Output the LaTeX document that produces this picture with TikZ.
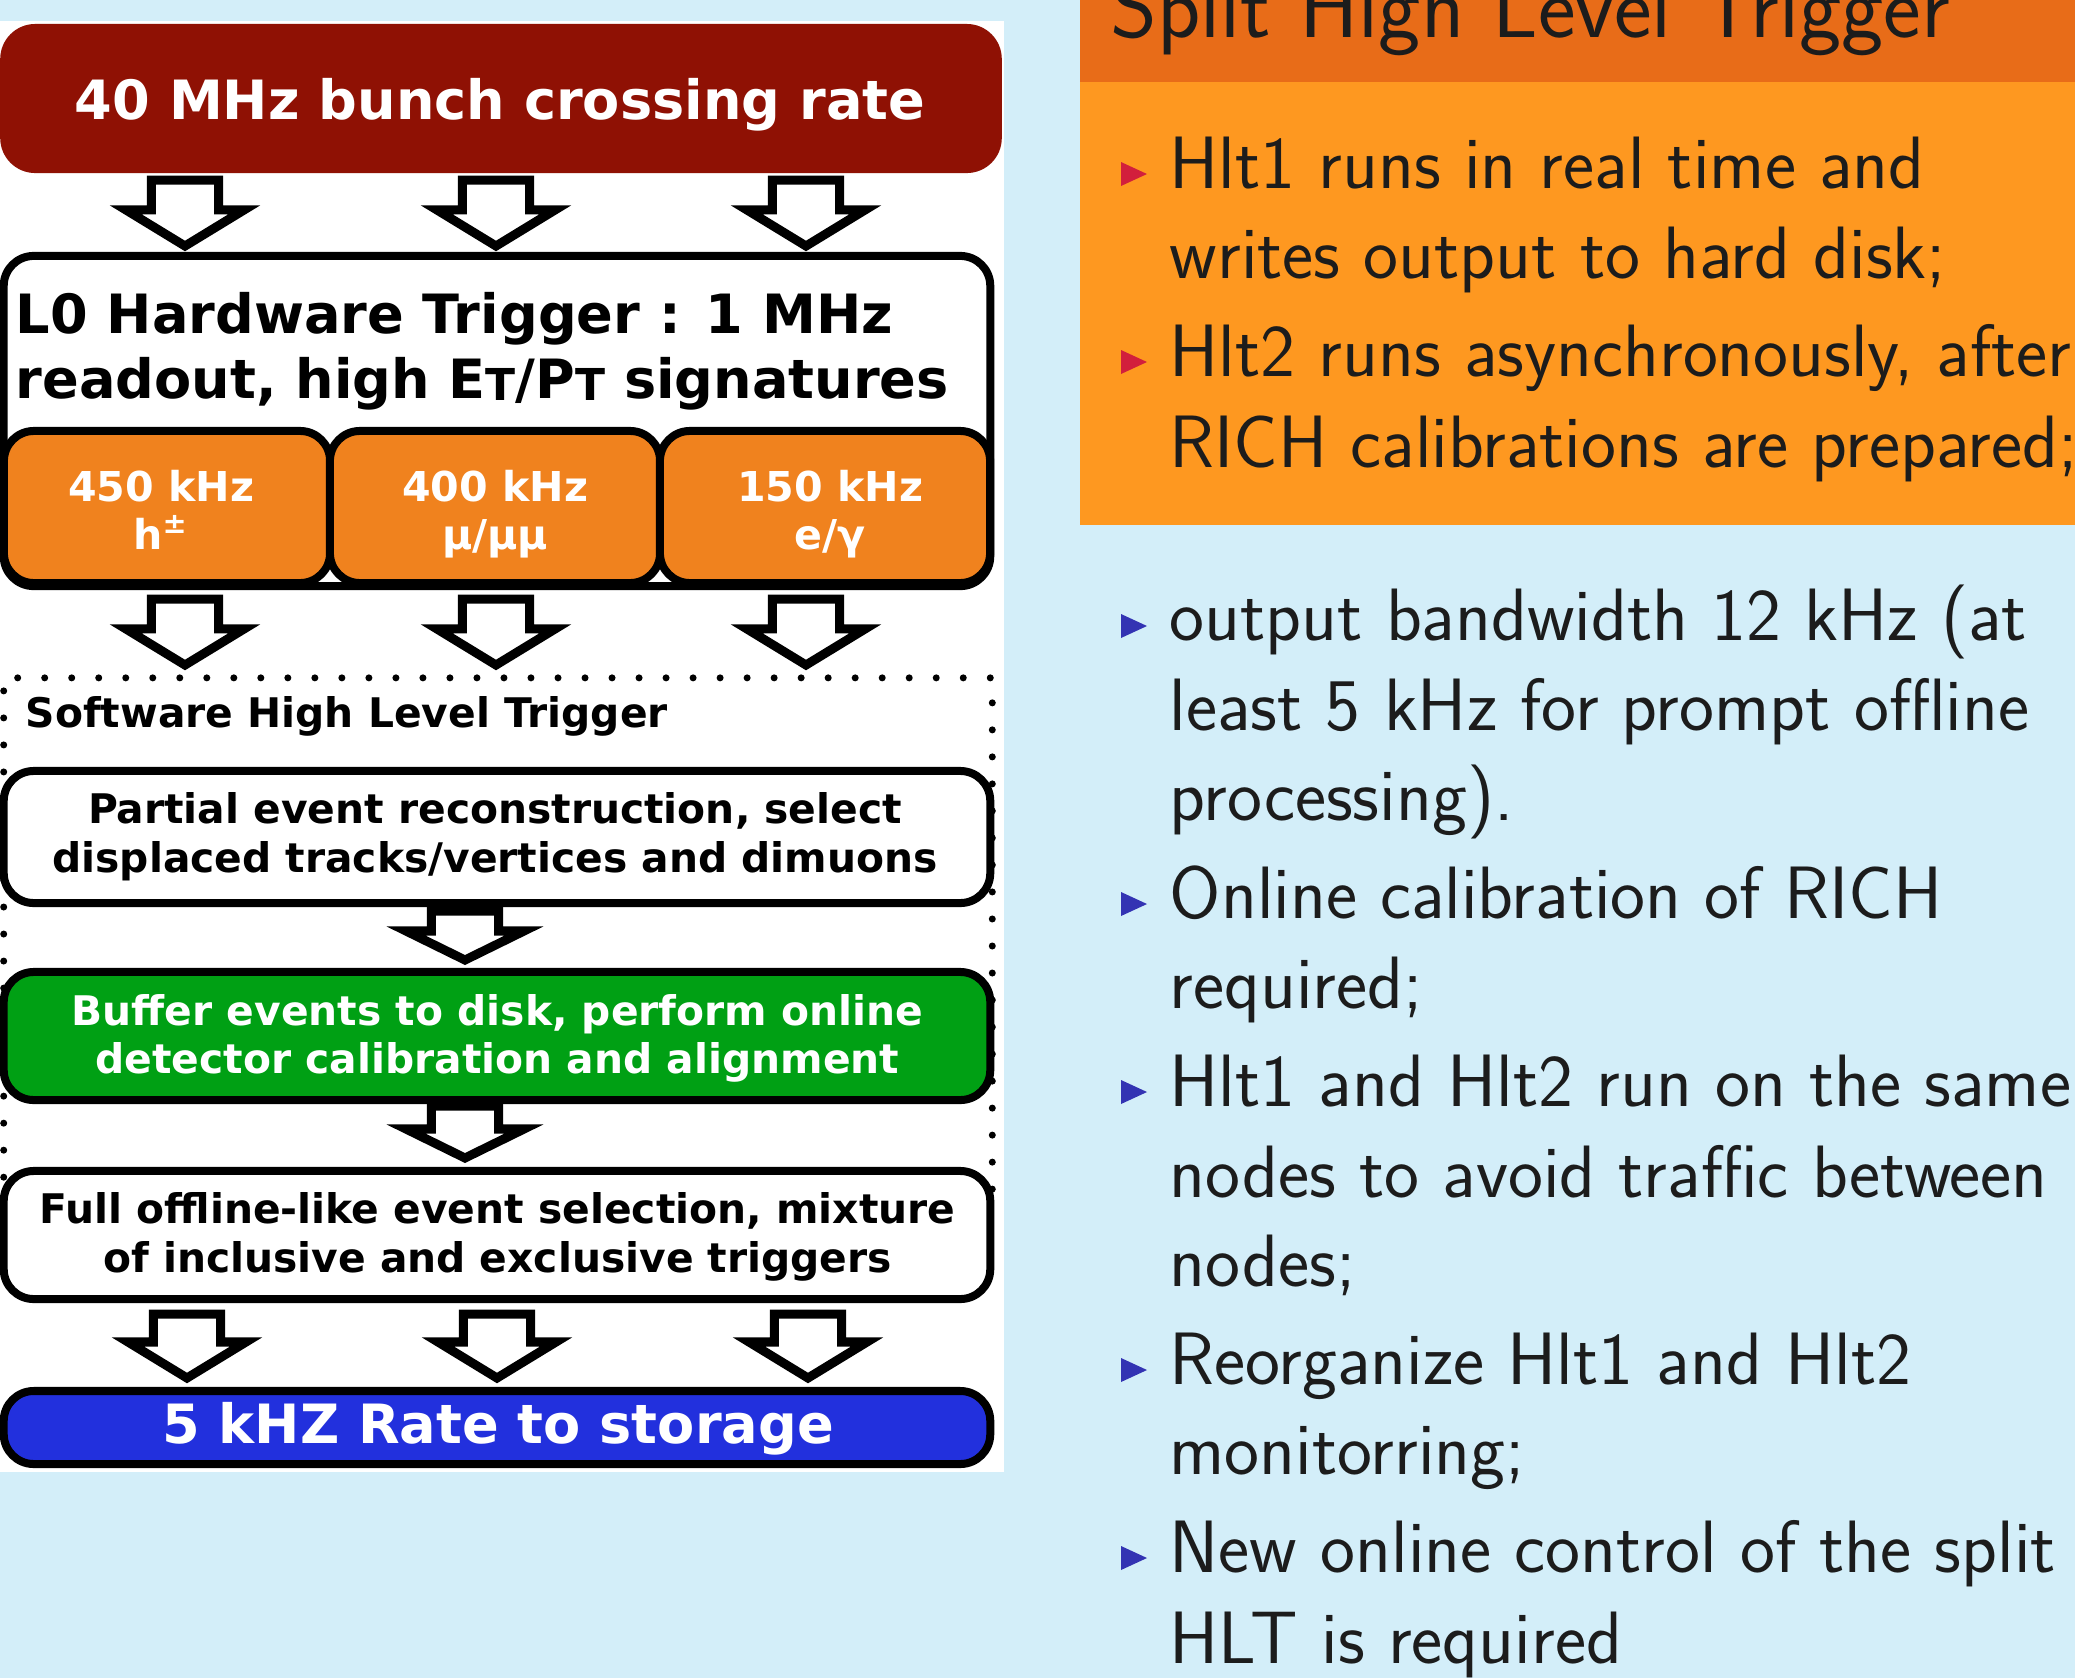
\documentclass[tikz,border=0pt]{standalone}
\usepackage{fontspec}
\newfontfamily\djv{DejaVu Sans}
\usetikzlibrary{calc}
\definecolor{bgblue}{HTML}{D3EEF9}
\definecolor{darkred}{HTML}{8F1104}
\definecolor{boxorange}{HTML}{F0821E}
\definecolor{boxgreen}{HTML}{00A014}
\definecolor{boxblue}{HTML}{2230DD}
\definecolor{titleorange}{HTML}{E86C18}
\definecolor{bodyorange}{HTML}{FE9820}
\definecolor{bulred}{HTML}{D21F3C}
\definecolor{bulblue}{HTML}{3333B3}
\definecolor{txt}{HTML}{1C1C1C}
\newcommand\blkarrow[3]{\draw[barrow] let \p1=(#1), \p2=(#2) in
  (\x1-0.335cm,\y1) -- (\x1+0.335cm,\y1) -- (\x1+0.335cm,\y2+#3) -- (\x1+0.59cm,\y2+#3)
  -- (\x1,\y2) -- (\x1-0.59cm,\y2+#3) -- (\x1-0.335cm,\y2+#3) -- cycle;}
\newcommand\redbul[1]{\fill[bulred] (1121,#1-26) -- (1147,#1-14) -- (1121,#1-2) -- cycle;}
\newcommand\bluebul[1]{\fill[bulblue] (1121,#1-26) -- (1147,#1-14) -- (1121,#1-2) -- cycle;}
\newcommand\subT{\raisebox{-0.05em}{\fontsize{12.5pt}{12.5pt}\selectfont T}}
\begin{document}
\begin{tikzpicture}[x=0.01cm,y=-0.01cm,
  bigf/.style={font=\djv\bfseries\fontsize{15.4pt}{17pt}\selectfont},
  midf/.style={font=\djv\bfseries\fontsize{11.7pt}{13.7pt}\selectfont},
  smlf/.style={font=\djv\bfseries\fontsize{11.6pt}{13.7pt}\selectfont},
  lt/.style={anchor=base, inner sep=0pt},
  ltw/.style={anchor=base west, inner sep=0pt},
  fbox/.style={draw=black, line width=0.08cm, rounded corners=0.3cm, inner sep=0pt},
  barrow/.style={draw=black, fill=white, line width=0.09cm, line join=miter},
  dotbox/.style={draw=black, line width=0.07cm, dash pattern=on 0pt off 0.27cm, line cap=round, inner sep=0pt},
  rtxt/.style={anchor=base west, inner sep=0pt, text=txt, font=\sffamily\fontsize{21.1pt}{26pt}\selectfont}]
\useasboundingbox (0,0) rectangle (2075,1678);
\fill[bgblue] (0,0) rectangle (2075,1678);
% left panel
\fill[white] (0,21) rectangle (1004,1472);
\node[fill=darkred, rounded corners=0.35cm, inner sep=0pt, minimum width=10.01cm, minimum height=1.49cm] (rate) at (501,98.5) {};
\node[lt, text=white, bigf] (ratet) at (500,119) {40 MHz bunch crossing rate};
\node[fbox, fill=white, minimum width=9.86cm, minimum height=3.30cm] (l0) at (497,421) {};
\node[ltw, bigf] (l0a) at (15,333) {L0 Hardware Trigger : 1 MHz};
\node[ltw, bigf] (l0b) at (15,398) {readout, high E\subT/P\subT{} signatures};
\node[fbox, fill=boxorange, minimum width=3.26cm, minimum height=1.52cm] (o1) at (167,507) {};
\node[fbox, fill=boxorange, minimum width=3.30cm, minimum height=1.52cm] (o2) at (495,507) {};
\node[fbox, fill=boxorange, minimum width=3.30cm, minimum height=1.52cm] (o3) at (825,507) {};
\node[lt, text=white, midf] (o1a) at (161,501) {450 kHz};
\node[lt, text=white, midf] (o1b) at (161,549) {h\textsuperscript{±}};
\node[lt, text=white, midf] (o2a) at (495,501) {400 kHz};
\node[lt, text=white, midf] (o2b) at (495,549) {μ/μμ};
\node[lt, text=white, midf] (o3a) at (830,501) {150 kHz};
\node[lt, text=white, midf] (o3b) at (830,549) {e/γ};
\node[dotbox, minimum width=9.88cm, minimum height=5.22cm] (hlt) at (498,939) {};
\node[ltw, smlf] (hltt) at (25,727) {Software High Level Trigger};
\node[fbox, fill=white, minimum width=9.86cm, minimum height=1.32cm] (part) at (497,837) {};
\node[lt, smlf] (parta) at (495,823) {Partial event reconstruction, select};
\node[lt, smlf] (partb) at (495,872) {displaced tracks/vertices and dimuons};
\node[fbox, fill=boxgreen, minimum width=9.86cm, minimum height=1.28cm] (buf) at (497,1036) {};
\node[lt, text=white, smlf] (bufa) at (497.5,1025) {Buffer events to disk, perform online};
\node[lt, text=white, smlf] (bufb) at (497.5,1073) {detector calibration and alignment};
\node[fbox, fill=white, minimum width=9.86cm, minimum height=1.28cm] (full) at (497,1235) {};
\node[lt, smlf] (fulla) at (497.5,1223) {Full offline-like event selection, mixture};
\node[lt, smlf] (fullb) at (497.5,1272) {of inclusive and exclusive triggers};
\node[fbox, fill=boxblue, minimum width=9.86cm, minimum height=0.73cm] (store) at (497,1427.5) {};
\node[lt, text=white, bigf] (storet) at (498,1443) {5 kHZ Rate to storage};
% block arrows
\coordinate (a1s) at (185,180); \coordinate (a1e) at (185,246);
\coordinate (a2s) at (496,180); \coordinate (a2e) at (496,246);
\coordinate (a3s) at (806,180); \coordinate (a3e) at (806,246);
\coordinate (b1s) at (185,599); \coordinate (b1e) at (185,665);
\coordinate (b2s) at (496,599); \coordinate (b2e) at (496,665);
\coordinate (b3s) at (806,599); \coordinate (b3e) at (806,665);
\coordinate (c1s) at (465,911); \coordinate (c1e) at (465,960);
\coordinate (c2s) at (465,1106); \coordinate (c2e) at (465,1158);
\coordinate (d1s) at (187,1314); \coordinate (d1e) at (187,1378);
\coordinate (d2s) at (497,1314); \coordinate (d2e) at (497,1378);
\coordinate (d3s) at (808,1314); \coordinate (d3e) at (808,1378);
\blkarrow{a1s}{a1e}{0.36cm}\blkarrow{a2s}{a2e}{0.36cm}\blkarrow{a3s}{a3e}{0.36cm}
\blkarrow{b1s}{b1e}{0.36cm}\blkarrow{b2s}{b2e}{0.36cm}\blkarrow{b3s}{b3e}{0.36cm}
\blkarrow{c1s}{c1e}{0.29cm}\blkarrow{c2s}{c2e}{0.29cm}
\blkarrow{d1s}{d1e}{0.36cm}\blkarrow{d2s}{d2e}{0.36cm}\blkarrow{d3s}{d3e}{0.36cm}
% right panel
\fill[titleorange] (1080,0) rectangle (2075,82);
\fill[bodyorange] (1080,82) rectangle (2075,525);
\node[anchor=base west, inner sep=0pt, text=txt, font=\sffamily\fontsize{25.5pt}{30pt}\selectfont] (title) at (1110,37) {Split High Level Trigger};
\redbul{188}\redbul{376}
\bluebul{640}\bluebul{918}\bluebul{1106}\bluebul{1384}\bluebul{1572}
\node[rtxt] (r1) at (1169,188) {Hlt1 runs in real time and};
\node[rtxt] (r2) at (1169,278) {writes output to hard disk;};
\node[rtxt] (r3) at (1169,376) {Hlt2 runs asynchronously, after};
\node[rtxt] (r4) at (1169,467) {RICH calibrations are prepared;};
\node[rtxt] (r5) at (1169,640) {output bandwidth 12 kHz (at};
\node[rtxt] (r6) at (1169,730) {least 5 kHz for prompt offline};
\node[rtxt] (r7) at (1169,820) {processing).};
\node[rtxt] (r8) at (1169,918) {Online calibration of RICH};
\node[rtxt] (r9) at (1169,1008) {required;};
\node[rtxt] (r10) at (1169,1106) {Hlt1 and Hlt2 run on the same};
\node[rtxt] (r11) at (1169,1197) {nodes to avoid traffic between};
\node[rtxt] (r12) at (1169,1286) {nodes;};
\node[rtxt] (r13) at (1169,1384) {Reorganize Hlt1 and Hlt2};
\node[rtxt] (r14) at (1169,1474) {monitorring;};
\node[rtxt] (r15) at (1169,1572) {New online control of the split};
\node[rtxt] (r16) at (1169,1663) {HLT is required};
\end{tikzpicture}
\end{document}
